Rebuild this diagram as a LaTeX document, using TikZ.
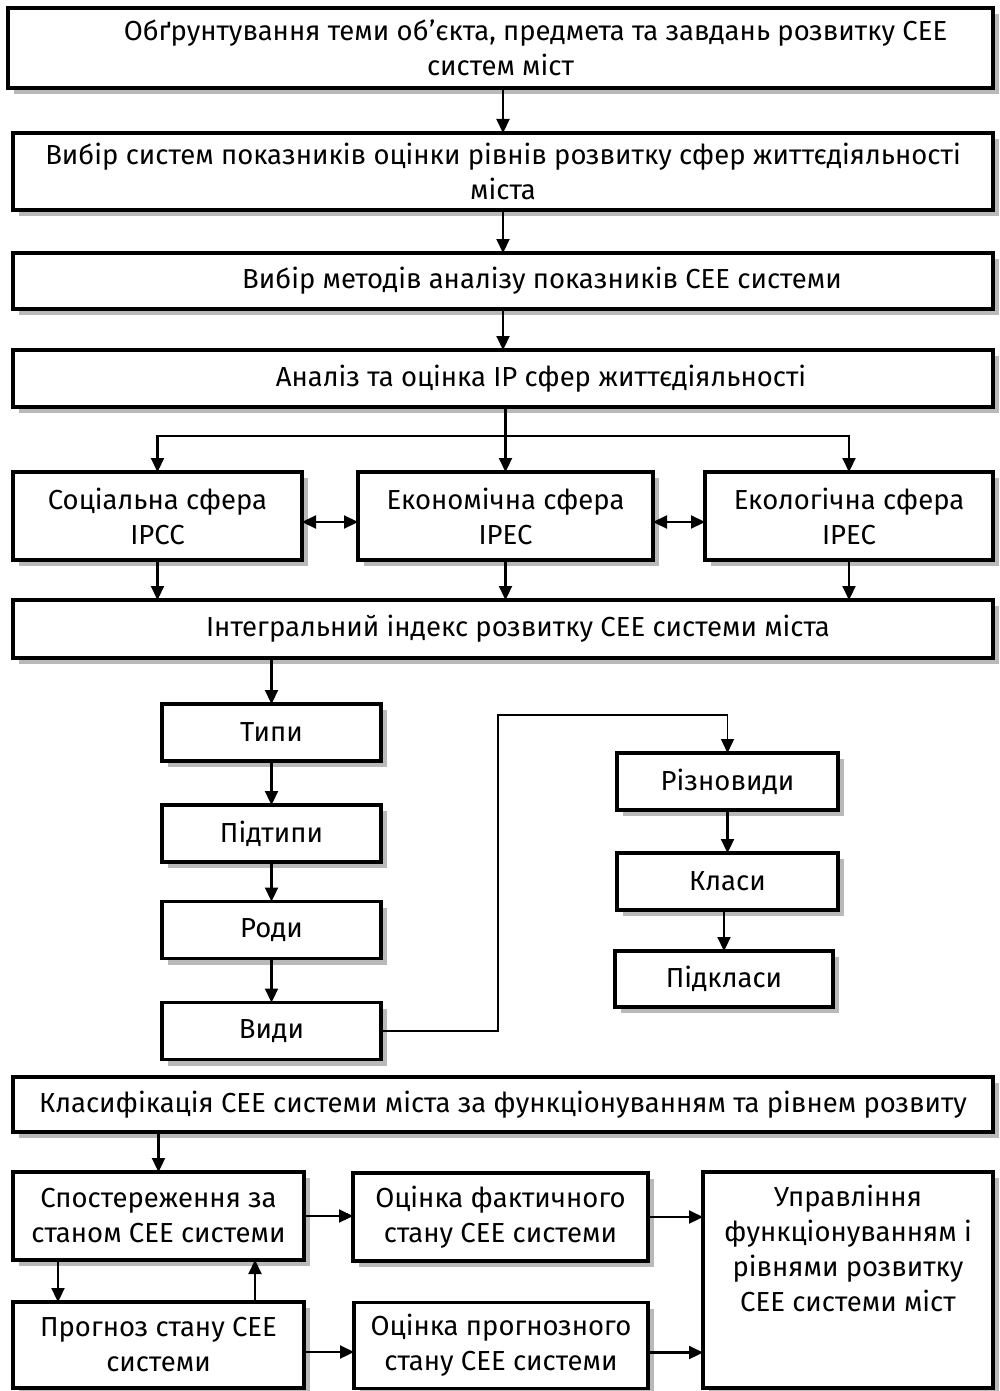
\documentclass[tikz,border=0pt]{standalone}
\usepackage{fontspec}
\setmainfont{Fira Sans}
\usetikzlibrary{arrows.meta,shadows,calc}
\tikzset{
  box/.style={draw=black, line width=3.2pt, fill=white, inner sep=0pt, outer sep=0pt,
    font=\fontsize{27.5}{35}\selectfont, align=center,
    drop shadow={shadow xshift=6pt, shadow yshift=-6pt, fill=gray!55, opacity=1}},
  arr/.style={line width=2.2pt, -{Triangle[length=14pt,width=13pt]}},
  darr/.style={line width=2.2pt, {Triangle[length=14pt,width=13pt]}-{Triangle[length=14pt,width=13pt]}},
  thinarr/.style={line width=1.4pt, -{Triangle[length=14pt,width=13pt]}},
  lbl/.style={font=\fontsize{27.5}{35}\selectfont, align=center, inner sep=0pt}
}
\begin{document}
\begin{tikzpicture}[x=1pt,y=1pt]
\useasboundingbox (0,0) rectangle (999,-1391);
% top chain
\node[box, minimum width=985, minimum height=80] (b1) at (500.5,-48)
  {\hspace*{70pt}Обґрунтування теми об\kern0.5pt\char"02BC єкта, предмета та завдань розвитку СЕЕ\\ систем міст};
\node[box, minimum width=980, minimum height=77] (b2) at (503,-171.5)
  {Вибір систем показників оцінки рівнів розвитку сфер життєдіяльності\\ міста};
\node[box, minimum width=980, minimum height=56] (b3) at (503,-281)
  {\hspace*{78pt}Вибір методів аналізу показників СЕЕ системи};
\node[box, minimum width=980, minimum height=57] (b4) at (503,-378.5)
  {\hspace*{76pt}Аналіз та оцінка IP сфер життєдіяльності};
% spheres
\node[box, minimum width=289, minimum height=88] (sA) at (157.5,-516) {Соціальна сфера\\ IPCC};
\node[box, minimum width=295, minimum height=88] (sB) at (505.5,-516) {Економічна сфера\\ IPEC};
\node[box, minimum width=288, minimum height=88] (sC) at (849,-516) {Екологічна сфера\\ IPEC};
\node[box, minimum width=980, minimum height=58] (ig) at (503,-629)
  {\hspace*{30pt}Інтегральний індекс розвитку СЕЕ системи міста};
% left stack
\node[box, minimum width=219, minimum height=57] (t1) at (271.5,-732.5) {Типи};
\node[box, minimum width=219, minimum height=57] (t2) at (271.5,-833.5) {Підтипи};
\node[box, minimum width=219, minimum height=57] (t3) at (271.5,-930) {Роди};
\node[box, minimum width=219, minimum height=57] (t4) at (271.5,-1031) {Види};
% right stack
\node[box, minimum width=221, minimum height=57] (r1) at (727.5,-781.5) {Різновиди};
\node[box, minimum width=221, minimum height=57] (r2) at (727.5,-881.5) {Класи};
\node[box, minimum width=218, minimum height=56] (r3) at (724,-979) {Підкласи};
% classification
\node[box, minimum width=980, minimum height=55] (cl) at (503,-1104.5)
  {Класифікація СЕЕ системи міста за функціонуванням та рівнем розвиту};
% bottom
\node[box, minimum width=291, minimum height=88] (m1) at (158.5,-1216) {Спостереження за\\ станом СЕЕ системи};
\node[box, minimum width=295, minimum height=88] (m2) at (500.5,-1217) {Оцінка фактичного\\ стану СЕЕ системи};
\node[box, minimum width=290, minimum height=216] (m3) at (848,-1280) {};
\node[lbl] (m3t) at (848,-1248) {Управління\\ функціонуванням і\\ рівнями розвитку\\ СЕЕ системи міст};
\node[box, minimum width=291, minimum height=86] (m4) at (158.5,-1345) {Прогноз стану СЕЕ\\ системи};
\node[box, minimum width=294, minimum height=86] (m5) at (501,-1345.5) {Оцінка прогнозного\\ стану СЕЕ системи};
% connectors
\draw[arr] (b1.south -| b2.north) -- (b2.north);
\draw[arr] (b2.south) -- (b3.north);
\draw[arr] (b3.south) -- (b4.north);
\coordinate (jn) at (505.5,-436);
\draw[arr] (b4.south -| sB.north) -- (sB.north);
\draw[arr] (jn) -| (sA.north);
\draw[arr] (jn) -| (sC.north);
\draw[darr] ([yshift=-6]sA.east) -- ([yshift=-6]sB.west);
\draw[darr] ([yshift=-6]sB.east) -- ([yshift=-6]sC.west);
\draw[arr] (sA.south) -- (sA.south |- ig.north);
\draw[arr] (sB.south) -- (sB.south |- ig.north);
\draw[arr] (sC.south) -- (sC.south |- ig.north);
\draw[arr] (ig.south -| t1.north) -- (t1.north);
\draw[arr] (t1.south) -- (t2.north);
\draw[arr] (t2.south) -- (t3.north);
\draw[arr] (t3.south) -- (t4.north);
\coordinate (vc) at (498,-715);
\draw[thinarr] (t4.east) -| (vc) -| (r1.north);
\draw[arr] (r1.south) -- (r2.north);
\draw[arr] (r2.south -| r3.north) -- (r3.north);
\draw[arr] (cl.south -| m1.north) -- (m1.north);
\draw[arr] (m1.east) -- (m1.east -| m2.west);
\draw[arr] (m2.east) -- (m2.east -| m3.west);
\draw[arr] ([xshift=-100.5]m1.south) -- ([xshift=-100.5]m4.north);
\draw[arr] ([xshift=96.5]m4.north) -- ([xshift=96.5]m1.south);
\draw[arr] ([yshift=-7]m4.east) -- ([yshift=-7]m4.east -| m5.west);
\draw[arr] ([yshift=-7]m5.east) -- ([yshift=-7]m5.east -| m3.west);
\end{tikzpicture}
\end{document}
